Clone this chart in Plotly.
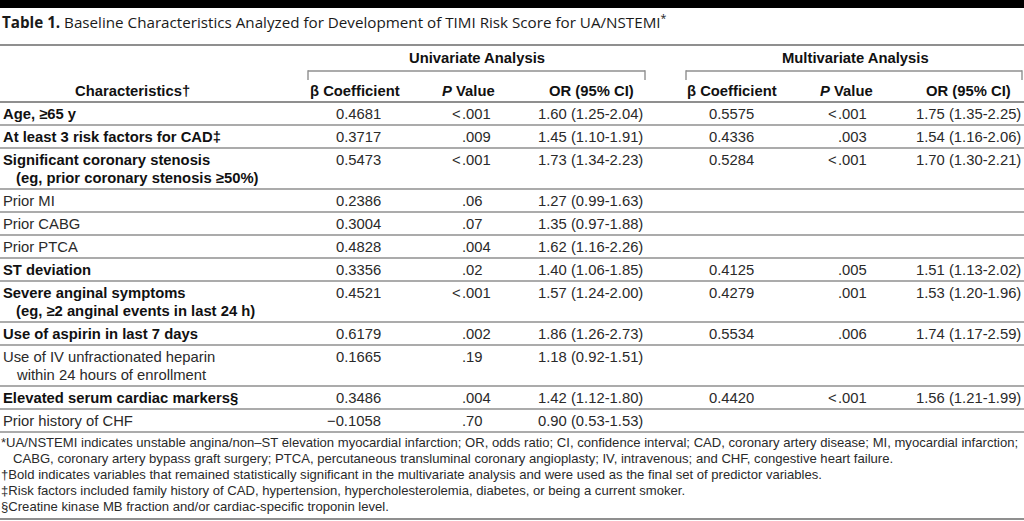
import plotly.graph_objects as go

# ---------------- data ----------------
title_bold = "Table 1."
title_rest = " Baseline Characteristics Analyzed for Development of TIMI Risk Score for UA/NSTEMI"

group_headers = ["Univariate Analysis", "Multivariate Analysis"]
col_headers = ["Characteristics\u2020", "\u03b2 Coefficient", "<i>P</i> Value", "OR (95% CI)",
               "\u03b2 Coefficient", "<i>P</i> Value", "OR (95% CI)"]

characteristics = [
    "Age, \u226565 y",
    "At least 3 risk factors for CAD\u2021",
    "Significant coronary stenosis",
    "Prior MI",
    "Prior CABG",
    "Prior PTCA",
    "ST deviation",
    "Severe anginal symptoms",
    "Use of aspirin in last 7 days",
    "Use of IV unfractionated heparin",
    "Elevated serum cardiac markers\u00a7",
    "Prior history of CHF",
]
characteristics_sub = [
    "", "", "(eg, prior coronary stenosis \u226550%)", "", "", "", "",
    "(eg, \u22652 anginal events in last 24 h)", "", "within 24 hours of enrollment", "", "",
]
is_bold = [True, True, True, False, False, False, True, True, True, False, True, False]

uni_beta = ["0.4681", "0.3717", "0.5473", "0.2386", "0.3004", "0.4828", "0.3356",
            "0.4521", "0.6179", "0.1665", "0.3486", "\u22120.1058"]
uni_p = ["<.001", ".009", "<.001", ".06", ".07", ".004", ".02", "<.001", ".002", ".19", ".004", ".70"]
uni_or = ["1.60 (1.25-2.04)", "1.45 (1.10-1.91)", "1.73 (1.34-2.23)", "1.27 (0.99-1.63)",
          "1.35 (0.97-1.88)", "1.62 (1.16-2.26)", "1.40 (1.06-1.85)", "1.57 (1.24-2.00)",
          "1.86 (1.26-2.73)", "1.18 (0.92-1.51)", "1.42 (1.12-1.80)", "0.90 (0.53-1.53)"]

multi_beta = ["0.5575", "0.4336", "0.5284", "", "", "", "0.4125", "0.4279", "0.5534", "", "0.4420", ""]
multi_p = ["<.001", ".003", "<.001", "", "", "", ".005", ".001", ".006", "", "<.001", ""]
multi_or = ["1.75 (1.35-2.25)", "1.54 (1.16-2.06)", "1.70 (1.30-2.21)", "", "", "",
            "1.51 (1.13-2.02)", "1.53 (1.20-1.96)", "1.74 (1.17-2.59)", "",
            "1.56 (1.21-1.99)", ""]

footnotes = [
    "*UA/NSTEMI indicates unstable angina/non\u2013ST elevation myocardial infarction; OR, odds ratio; CI, confidence interval; CAD, coronary artery disease; MI, myocardial infarction;",
    "CABG, coronary artery bypass graft surgery; PTCA, percutaneous transluminal coronary angioplasty; IV, intravenous; and CHF, congestive heart failure.",
    "\u2020Bold indicates variables that remained statistically significant in the multivariate analysis and were used as the final set of predictor variables.",
    "\u2021Risk factors included family history of CAD, hypertension, hypercholesterolemia, diabetes, or being a current smoker.",
    "\u00a7Creatine kinase MB fraction and/or cardiac-specific troponin level.",
]
footnote_indent = [False, True, False, False, False]

# ---------------- layout constants ----------------
W, H = 1024, 521
BODY_FONT = "Liberation Sans, Arial, Helvetica, sans-serif"
TITLE_FONT = "Open Sans, Lato, sans-serif"
LINE_COLOR = "#8f8f8f"
TEXT_DARK = "#111111"
TEXT_REG = "#2a2a2a"
FS = 14.8

fig = go.Figure()
ann = []
shapes = []


def add_text(x, y, text, anchor="left", size=FS, color=TEXT_REG, family=BODY_FONT):
    ann.append(dict(x=x, y=y, xref="x", yref="y", text=text, showarrow=False,
                    xanchor=anchor, yanchor="middle", align=anchor if anchor != "center" else "center",
                    font=dict(family=family, size=size, color=color), borderpad=0))


def hline(y, x0=0, x1=W, width=1.6, color=LINE_COLOR):
    shapes.append(dict(type="line", xref="x", yref="y", x0=x0, x1=x1, y0=y, y1=y,
                       line=dict(color=color, width=width)))


def vline(x, y0, y1, width=1.4, color=LINE_COLOR):
    shapes.append(dict(type="line", xref="x", yref="y", x0=x, x1=x, y0=y0, y1=y1,
                       line=dict(color=color, width=width)))


# top black bar
shapes.append(dict(type="rect", xref="x", yref="y", x0=0, x1=W, y0=0, y1=8,
                   fillcolor="black", line=dict(width=0), layer="above"))

# title
add_text(1, 21.5, "<b>" + title_bold + "</b>" + title_rest + "<sup>*</sup>", size=15.2,
         color="#1a1a1a", family=TITLE_FONT)
hline(45, width=2)

# group headers and brackets
add_text(477, 58, "<b>" + group_headers[0] + "</b>", anchor="center", color=TEXT_DARK)
add_text(855, 58, "<b>" + group_headers[1] + "</b>", anchor="center", color=TEXT_DARK)
for (bx0, bx1) in [(308, 645), (686, 1022)]:
    hline(71, bx0, bx1, width=1.4)
    vline(bx0, 70.3, 80)
    vline(bx1, 70.3, 80)

# column headers
hdr_x = [132, 355, 468, 591, 732, 846, 968]
for hx, htxt in zip(hdr_x, col_headers):
    add_text(hx, 91, "<b>" + htxt + "</b>", anchor="center", color=TEXT_DARK)
hline(102, width=1.8)

# rows
col_beta_u, col_p_u, col_or_u = 382, 461, 537
col_beta_m, col_p_m, col_or_m = 755, 837, 915


def add_p(xdot, y, val):
    if not val:
        return
    if val.startswith("<"):
        add_text(xdot + 1, y, "\u003c", anchor="right")
        add_text(xdot, y, val[1:], anchor="left")
    else:
        add_text(xdot, y, val, anchor="left")


top = 102
for i, name in enumerate(characteristics):
    two = bool(characteristics_sub[i])
    h = 41 if two else 23
    y1 = top + 12
    col = TEXT_DARK if is_bold[i] else TEXT_REG
    txt = "<b>" + name + "</b>" if is_bold[i] else name
    add_text(2, y1, txt, color=col)
    if two:
        sub = "<b>" + characteristics_sub[i] + "</b>" if is_bold[i] else characteristics_sub[i]
        add_text(15, top + 29.5, sub, color=col)
    add_text(col_beta_u, y1, uni_beta[i], anchor="right")
    add_p(col_p_u, y1, uni_p[i])
    add_text(col_or_u, y1, uni_or[i])
    if multi_beta[i]:
        add_text(col_beta_m, y1, multi_beta[i], anchor="right")
    add_p(col_p_m, y1, multi_p[i])
    if multi_or[i]:
        add_text(col_or_m, y1, multi_or[i])
    top += h
    hline(top, width=1.6)

# footnotes
fy = 442
for txt, ind in zip(footnotes, footnote_indent):
    add_text(12 if ind else 0, fy, txt, size=13.1, color=TEXT_REG)
    fy += 16
hline(519, width=1.8)

fig.update_layout(
    width=W, height=H,
    margin=dict(l=0, r=0, t=0, b=0),
    paper_bgcolor="white", plot_bgcolor="white",
    xaxis=dict(range=[0, W], visible=False, fixedrange=True),
    yaxis=dict(range=[H, 0], visible=False, fixedrange=True),
    annotations=ann, shapes=shapes, showlegend=False,
)

fig.write_html("out.html", config={"displayModeBar": False},
               post_script="document.body.style.margin='0';document.body.style.overflow='hidden';")
